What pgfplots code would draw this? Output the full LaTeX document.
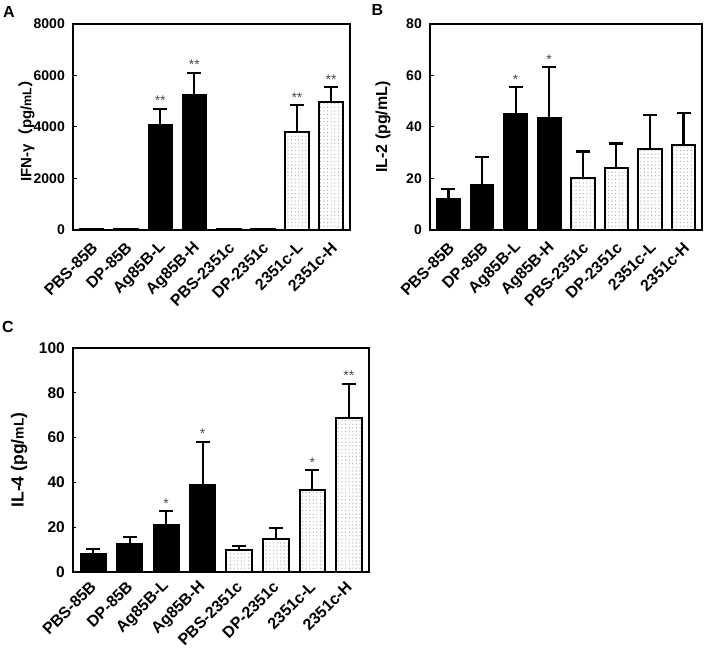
\documentclass[border=0pt]{standalone}
\usepackage{fontspec}
\setmainfont{Liberation Sans}
\newfontfamily\cjk{Noto Sans CJK SC}
\usepackage{pgfplots}
\pgfplotsset{compat=1.18}
\usetikzlibrary{patterns}
\pgfdeclarepatternformonly{bigdots}{\pgfqpoint{-1pt}{-1pt}}{\pgfqpoint{1pt}{1pt}}{\pgfqpoint{3.6pt}{3.6pt}}{%
  \pgfpathcircle{\pgfqpoint{0pt}{0pt}}{0.6pt}\pgfusepath{fill}}

\pgfplotsset{
  panel/.style={
    scale only axis, anchor=south west,
    xmin=-0.55, xmax=7.55, ymin=0,
    axis line style={line width=1.4pt},
    xtick={0,...,7},
    xticklabels={PBS-85B,DP-85B,Ag85B-L,Ag85B-H,PBS-2351c,DP-2351c,2351c-L,2351c-H},
    x tick label style={xshift=3pt, yshift=-15pt, rotate=45, anchor=east, inner sep=0pt},
    major x tick style={draw=none},
    ytick pos=left, tick align=inside, major tick length=3.5pt,
    ytick style={line width=1pt, black},
    /pgf/number format/assume math mode=true,
    scaled y ticks=false,
    /pgf/number format/1000 sep={},
    y tick label style={font=\bfseries\fontsize{14}{15}\selectfont, inner sep=0pt, xshift=-8pt},
    ylabel style={font=\bfseries\fontsize{16}{18}\selectfont, anchor=center},
    clip=false,
  },
  blackbar/.style={ybar, bar shift=0pt, bar width=0.7, fill=black, draw=black, line width=1.3pt,
    error bars/.cd, y dir=plus, y explicit,
    error bar style={line width=2.2pt, black},
    error mark options={rotate=90, mark size=7pt, line width=2.2pt, black}},
  dotbar/.style={ybar, bar shift=0pt, bar width=0.7, pattern=bigdots, pattern color=gray!75, draw=black, line width=2pt,
    error bars/.cd, y dir=plus, y explicit,
    error bar style={line width=2.2pt, black},
    error mark options={rotate=90, mark size=7pt, line width=2.2pt, black}},
  stars/.style={draw=none, mark=none, nodes near coords, point meta=explicit symbolic,
    nodes near coords style={anchor=base, inner sep=0pt, yshift=3pt, font=\fontsize{14}{14}\selectfont, text=black!70}},
}

\begin{document}
\begin{tikzpicture}[x=1pt,y=1pt]
\useasboundingbox (0,0) rectangle (705,651);

\node[font=\bfseries\fontsize{16}{16}\selectfont] at (9,638.5) {A};
\node[font=\bfseries\fontsize{16}{16}\selectfont] at (377.5,641) {B};
\node[font=\bfseries\fontsize{16}{16}\selectfont] at (8,324) {C};

% Panel A
\begin{axis}[panel, at={(73pt,421pt)}, width=277pt, height=206pt,
  ymax=8000, ytick={0,2000,4000,6000,8000},
  x tick label style={font=\bfseries\fontsize{16}{16}\selectfont},
  ylabel={IFN-γ{\cjk （}pg/{\fontsize{12.5}{13}\selectfont mL}{\cjk ）}},
  ylabel style={font=\bfseries\fontsize{15}{16}\selectfont, at={(axis description cs:-0.168,0.5)}}]
\addplot[blackbar] coordinates {(0,50) +- (0,0) (1,50) +- (0,0) (2,4100) +- (0,600) (3,5250) +- (0,850)};
\addplot[dotbar] coordinates {(4,50) +- (0,0) (5,50) +- (0,0) (6,3800) +- (0,1050) (7,4980) +- (0,570)};
\addplot[stars] coordinates {(2,4700)[**] (3,6100)[**] (6,4850)[**] (7,5550)[**]};
\end{axis}

% Panel B
\begin{axis}[panel, at={(430pt,421pt)}, width=272pt, height=206pt,
  ymax=80, ytick={0,20,40,60,80},
  x tick label style={font=\bfseries\fontsize{16}{16}\selectfont},
  ylabel={IL-2 (pg/mL)},
  ylabel style={at={(axis description cs:-0.173,0.5)}}]
\addplot[blackbar] coordinates {(0,12) +- (0,4) (1,17.5) +- (0,11) (2,45.3) +- (0,10.2) (3,43.5) +- (0,19.7)};
\addplot[dotbar] coordinates {(4,20.3) +- (0,10.2) (5,24.2) +- (0,9.4) (6,31.4) +- (0,13.2) (7,33.2) +- (0,12.2)};
\addplot[stars] coordinates {(2,55.5)[*] (3,63.2)[*]};
\end{axis}

% Panel C
\begin{axis}[panel, at={(73pt,79pt)}, width=296pt, height=224pt,
  ymax=100, ytick={0,20,40,60,80,100},
  y tick label style={font=\bfseries\fontsize{15.5}{16}\selectfont},
  x tick label style={font=\bfseries\fontsize{16}{16}\selectfont, yshift=4pt},
  ylabel={IL-4 (pg/{\fontsize{14}{14}\selectfont mL})},
  ylabel style={font=\bfseries\fontsize{17.5}{18}\selectfont, at={(axis description cs:-0.182,0.5)}}]
\addplot[blackbar] coordinates {(0,8.2) +- (0,2.2) (1,12.6) +- (0,3.1) (2,21.2) +- (0,6) (3,38.8) +- (0,19.4)};
\addplot[dotbar] coordinates {(4,10) +- (0,1.5) (5,14.9) +- (0,4.8) (6,36.4) +- (0,9) (7,68.7) +- (0,15.3)};
\addplot[stars] coordinates {(2,27.2)[*] (3,58.2)[*] (6,45.4)[*] (7,84)[**]};
\end{axis}
\end{tikzpicture}
\end{document}
